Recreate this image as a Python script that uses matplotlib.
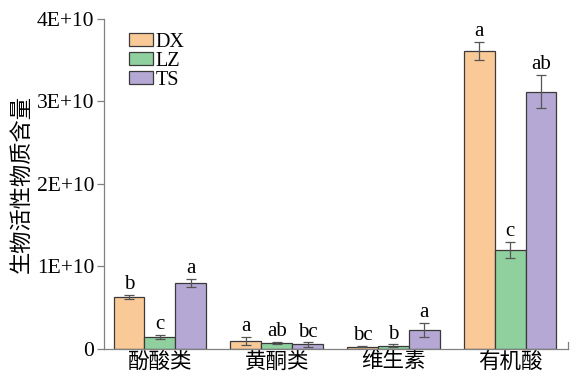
import numpy as np
import matplotlib.pyplot as plt
from matplotlib.ticker import FuncFormatter

# Content of bioactive compounds by category and sample
categories = ['酚酸类', '黄酮类', '维生素', '有机酸']
samples = ['DX', 'LZ', 'TS']
values = {
    'DX': [6.3e9, 1.0e9, 0.3e9, 3.61e10],
    'LZ': [1.5e9, 0.75e9, 0.4e9, 1.2e10],
    'TS': [8.0e9, 0.55e9, 2.3e9, 3.12e10],
}
errors = {
    'DX': [0.25e9, 0.5e9, 0.05e9, 0.11e10],
    'LZ': [0.25e9, 0.15e9, 0.15e9, 0.1e10],
    'TS': [0.5e9, 0.25e9, 0.88e9, 0.2e10],
}
letters = {
    'DX': ['b', 'a', 'bc', 'a'],
    'LZ': ['c', 'ab', 'b', 'c'],
    'TS': ['a', 'bc', 'a', 'ab'],
}
colors = {'DX': '#F9CA98', 'LZ': '#8FD09E', 'TS': '#B5A8D4'}

plt.rcParams['font.family'] = ['Liberation Serif', 'Noto Sans CJK SC']
cjk = 'Noto Sans CJK SC'

fig = plt.figure(figsize=(5.81, 3.76), dpi=100)
ax = fig.add_axes([0.179, 0.0718, 0.7986, 0.8777])

x = np.arange(len(categories))
width = 0.265
for i, s in enumerate(samples):
    pos = x + (i - 1) * width
    ax.bar(pos, values[s], width, color=colors[s], edgecolor='#3a3a3a',
           linewidth=0.9, label=s, zorder=2)
    ax.errorbar(pos, values[s], yerr=errors[s], fmt='none', ecolor='#555555',
                elinewidth=0.9, capsize=3.5, capthick=0.9, zorder=3)
    for xp, v, e, t in zip(pos, values[s], errors[s], letters[s]):
        ax.annotate(t, (xp, v + e), xytext=(0, 0.5), textcoords='offset points',
                    ha='center', va='bottom', fontsize=15)

ax.set_xlim(-0.479, 3.496)
ax.set_ylim(0, 4e10)
ax.set_yticks([0, 1e10, 2e10, 3e10, 4e10])
ax.yaxis.set_major_formatter(FuncFormatter(
    lambda v, p: '0' if v == 0 else f'{int(round(v / 1e10))}E+10'))
ax.set_xticks(x)
ax.set_xticklabels(categories, family=cjk, fontsize=15.5)
ax.tick_params(axis='x', length=0, pad=1)
ax.tick_params(axis='y', length=5, width=0.9, color='#808080', labelsize=15.5, pad=2)
ax.set_ylabel('生物活性物质含量', family=cjk, fontsize=16, labelpad=3)

for side in ['top', 'right']:
    ax.spines[side].set_visible(False)
for side in ['left', 'bottom']:
    ax.spines[side].set_color('#808080')
    ax.spines[side].set_linewidth(0.9)
# small closing tick at the right end of the x axis
ax.plot([1, 1], [0, 0.02], transform=ax.transAxes, color='#808080',
        linewidth=0.9, clip_on=False)

ax.legend(loc='upper left', bbox_to_anchor=(0.027, 0.995), frameon=False,
          fontsize=14.5, labelspacing=0.0, handlelength=1.2, handleheight=0.6,
          handletextpad=0.15, borderaxespad=0.2)

fig.savefig('out.png', dpi=100)
